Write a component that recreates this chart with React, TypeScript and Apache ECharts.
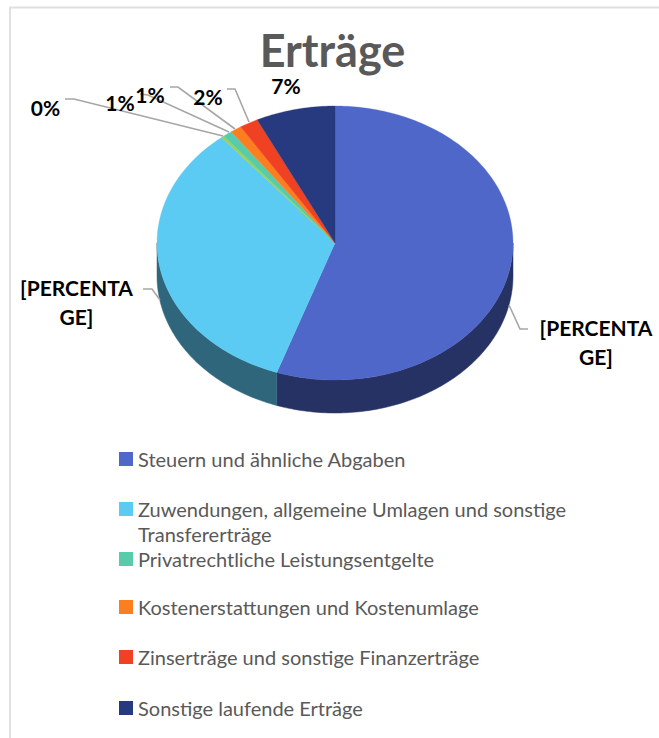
import React, { useEffect, useRef } from "react";
import * as echarts from "echarts";

const categories = [
  "Steuern und ähnliche Abgaben",
  "Zuwendungen, allgemeine Umlagen und sonstige",
  "Unbenannt",
  "Privatrechtliche Leistungsentgelte",
  "Kostenerstattungen und Kostenumlage",
  "Zinserträge und sonstige Finanzerträge",
  "Sonstige laufende Erträge",
];
const categoryContinuation = "Transfererträge";
const values = [55.3, 33.7, 0.25, 0.85, 1.0, 1.7, 7.2];
const labels = ["[PERCENTA\nGE]", "[PERCENTA\nGE]", "0%", "1%", "1%", "2%", "7%"];
const topColors = ["#4f67c9", "#5ccbf3", "#9bd34a", "#58cbab", "#fd7e1e", "#f04123", "#27397f"];
const sideColors = ["#273264", "#30667c", "#4d6a25", "#2c6555", "#7e3f0f", "#782011", "#131c3f"];

const FONT = "Lato, Carlito, sans-serif";
const CX = 335, CY = 243, RX = 178, RY = 137, DEPTH = 33;

// Label layout: text centre and leader polyline for each slice
const labelLayout: { x: number; y: number; leader?: number[][] }[] = [
  { x: 596, y: 342, leader: [[509, 305], [520, 329], [528, 329]] },
  { x: 76.5, y: 302, leader: [[143, 289], [152, 289], [160, 300]] },
  { x: 45.5, y: 107, leader: [[65, 99], [74, 99], [223, 136]] },
  { x: 120, y: 102, leader: [[140, 94], [148, 95], [229, 132]] },
  { x: 150, y: 94, leader: [[170, 87], [178, 87], [235, 129]] },
  { x: 208, y: 96, leader: [[227, 89], [235, 89], [249, 122]] },
  { x: 286, y: 85 },
];

const legendTops = [449, 499, 549, 597, 647, 698];
const legendOrder = [0, 1, 3, 4, 5, 6];

const total = values.reduce((a, b) => a + b, 0);
const pt = (deg: number, dy = 0) => {
  const r = (deg * Math.PI) / 180;
  return [CX + RX * Math.sin(r), CY - RY * Math.cos(r) + dy];
};
const arc = (a: number, b: number, dy = 0) => {
  const out: number[][] = [];
  const n = Math.max(2, Math.ceil(Math.abs(b - a) / 1));
  for (let i = 0; i <= n; i++) out.push(pt(a + ((b - a) * i) / n, dy));
  return out;
};

function makeSeries(i: number) {
  const start = (values.slice(0, i).reduce((a, b) => a + b, 0) / total) * 360;
  const end = start + (values[i] / total) * 360;
  return {
    type: "custom",
    name: categories[i],
    coordinateSystem: "none",
    silent: true,
    itemStyle: { color: topColors[i] },
    data: [values[i]],
    renderItem: () => {
      const children: any[] = [];
      const sa = Math.max(start, 90);
      const sb = Math.min(end, 270);
      if (sb > sa) {
        children.push({
          type: "polygon",
          shape: { points: [...arc(sa, sb, 0), ...arc(sb, sa, DEPTH)] },
          style: { fill: sideColors[i], stroke: sideColors[i], lineWidth: 0.5 },
        });
      }
      children.push({
        type: "polygon",
        shape: { points: [[CX, CY], ...arc(start, end)] },
        style: { fill: topColors[i], stroke: topColors[i], lineWidth: 0.3 },
      });
      return { type: "group", children };
    },
  };
}

export default function App() {
  const ref = useRef<HTMLDivElement>(null);
  useEffect(() => {
    const chart = echarts.init(ref.current!, null, { renderer: "svg" });
    const labelEls: any[] = [];
    labelLayout.forEach((l) => {
      if (l.leader) {
        labelEls.push({
          type: "polyline",
          z: 20,
          shape: { points: l.leader },
          style: { stroke: "#a6a6a6", lineWidth: 1.6, fill: "none" },
        });
      }
    });
    labelLayout.forEach((l, i) => {
      labelEls.push({
        type: "text",
        z: 21,
        x: l.x,
        y: l.y,
        style: {
          text: labels[i],
          font: `bold 21px ${FONT}`,
          fill: "#000",
          align: "center",
          verticalAlign: "middle",
          lineHeight: i < 2 ? 29 : 22,
        },
      });
    });
    chart.setOption({
      animation: false,
      backgroundColor: "#fff",
      title: {
        text: "Erträge",
        left: 332.5,
        top: 28,
        padding: 0,
        textAlign: "center",
        textStyle: { fontFamily: FONT, fontWeight: "bold", fontSize: 45, color: "#595959", lineHeight: 44 },
      },
      legend: legendOrder.map((idx, k) => ({
        data: [categories[idx]],
        left: 119,
        top: legendTops[k],
        itemWidth: 14,
        itemHeight: 14,
        itemGap: 0,
        padding: 0,
        icon: "rect",
        selectedMode: false,
        textStyle: {
          fontFamily: FONT,
          fontSize: 20,
          color: "#595959",
          padding: [0, 0, 4, 0],
        },
      })),
      graphic: [
        {
          type: "polyline",
          shape: { points: [[10, 738], [10, 7.5], [659, 7.5]] },
          style: { stroke: "#e0e0e0", lineWidth: 2, fill: "none" },
        },
        {
          type: "text",
          x: 138,
          y: 534,
          style: {
            text: categoryContinuation,
            font: `20px ${FONT}`,
            fill: "#595959",
            align: "left",
            verticalAlign: "middle",
          },
        },
        ...labelEls,
      ],
      series: values.map((_, i) => makeSeries(i)),
    });
    return () => chart.dispose();
  }, []);
  return <div ref={ref} style={{ position: "fixed", left: 0, top: 0, width: 659, height: 738 }} />;
}
